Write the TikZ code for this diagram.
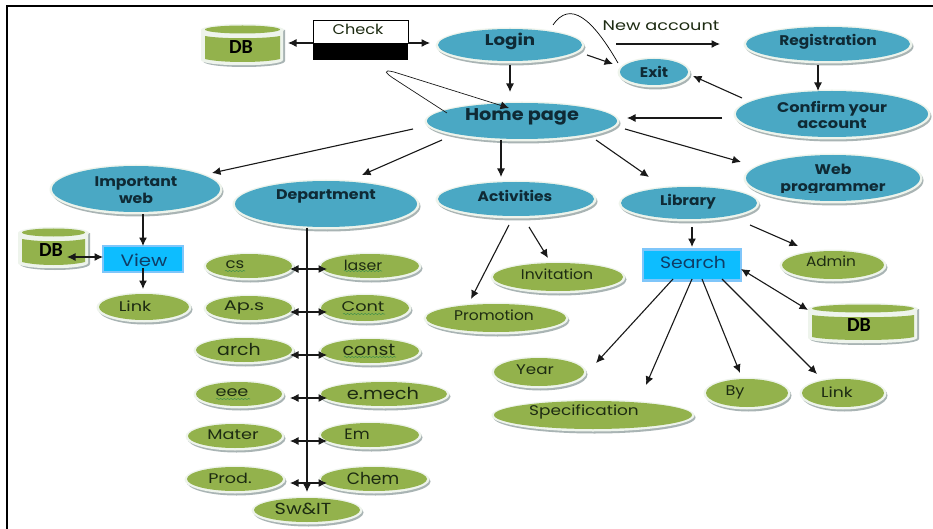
\documentclass[tikz,border=0pt]{standalone}
\usepackage{fontspec}
\setmainfont{Poppins}
\newfontfamily\dbfont{Carlito}
\usetikzlibrary{arrows.meta,shapes.geometric,decorations.pathmorphing}
\definecolor{blueF}{HTML}{4AA8C4}
\definecolor{greenF}{HTML}{93B24C}
\definecolor{rimC}{HTML}{EEF4EC}
\definecolor{shadeC}{HTML}{A9B4B4}
\definecolor{inkC}{HTML}{0F2A35}
\definecolor{greenInk}{HTML}{1D2B12}
\definecolor{boxF}{HTML}{0DBDFF}
\definecolor{boxE}{HTML}{7FC6FA}
\definecolor{boxInk}{HTML}{0F3D66}
\definecolor{squigC}{HTML}{3F8F4A}
\tikzset{
  x=1pt,y=-1pt,
  ellbase/.style={ellipse,inner sep=0pt,draw=none},
  bluell/.style={ellbase,fill=blueF},
  greenell/.style={ellbase,fill=greenF},
  boldtxt/.style={inner sep=0pt,text=inkC,align=center,xscale=1.1,font=\fontsize{14}{16.5}\selectfont\bfseries},
  plaintxt/.style={inner sep=0pt,text=greenInk,xscale=1.15,font=\fontsize{14}{15}\selectfont},
  bigtxt/.style={plaintxt,font=\fontsize{16.5}{17}\selectfont},
  dbtxt/.style={inner sep=0pt,text=black,font=\dbfont\fontsize{20}{22}\selectfont\bfseries},
  boxnode/.style={rectangle,draw=boxE,line width=2.5pt,fill=boxF,inner sep=0pt},
  boxtxt/.style={inner sep=0pt,text=boxInk,xscale=1.2,font=\fontsize{16.5}{17}\selectfont},
  arr/.style={draw=black!90,line width=1.1pt,-{Latex[length=8.5pt,width=8pt]}},
  darr/.style={draw=black!90,line width=1.1pt,{Latex[length=8.5pt,width=8pt]}-{Latex[length=8.5pt,width=8pt]}},
  squig/.style={draw=squigC,line width=0.5pt,decorate,decoration={snake,amplitude=0.6pt,segment length=3.5pt}}
}
% style, name, cx, cy, rx, ry (outer sizes)
\newcommand\ELL[6]{%
  \fill[shadeC] ({#3+1.5},{#4+2.5}) ellipse ({#5-1} and {#6});
  \fill[rimC] (#3,{#4+0.5}) ellipse ({#5-0.5} and {#6});
  \node[#1,minimum width={2*(#5-3)*1pt},minimum height={2*(#6-2)*1pt}] (#2) at (#3,#4) {};
}
% name, x0, x1, y0, y1, textx, texty
\newcommand\DBN[7]{%
  \pgfmathsetmacro\dbc{(#2+#3)/2}
  \pgfmathsetmacro\dbw{(#3-#2)/2-4}
  \pgfmathsetmacro\dbo{(#3-#2)/2}
  \fill[shadeC] ({#2+2},{#4+6}) -- ({#3+1},{#4+6}) -- ({#3+1},{#5-7}) .. controls ({#3+1},{#5+1}) and ({#2+2},{#5+1}) .. ({#2+2},{#5-7}) -- cycle;
  \fill[rimC] ({#2},{#4+6}) -- ({#3-1},{#4+6}) -- ({#3-1},{#5-8}) .. controls ({#3-1},{#5-1}) and ({#2},{#5-1}) .. ({#2},{#5-8}) -- cycle;
  \fill[rimC] (\dbc,{#4+6}) ellipse ({\dbo} and {6});
  \fill[greenF] (\dbc,{#4+5.5}) ellipse ({\dbw} and {4});
  \fill[greenF] ({#2+4},{#4+12}) .. controls ({#2+20},{#4+15}) and ({#3-20},{#4+15}) .. ({#3-4},{#4+12}) -- ({#3-4},{#5-9}) .. controls ({#3-20},{#5-5}) and ({#2+20},{#5-5}) .. ({#2+4},{#5-9}) -- cycle;
  \node[dbtxt] (#1) at (#6,#7) {DB};
}
\newcommand\TXT[5]{\node[#1] (#2) at (#3,#4) {#5};}
\newcommand\CN[7]{\draw[#1] ([shift={(#3,#4)}]#2.center) -- ([shift={(#6,#7)}]#5.center);}
\begin{document}
\begin{tikzpicture}
\useasboundingbox (0,0) rectangle (933,529);
\fill[white] (0,0) rectangle (933,529);
\draw[black,line width=2pt] (6.5,529) -- (6.5,6) -- (933,6);

% blue ellipses
\ELL{bluell}{login}{510}{45}{75}{18}
\ELL{bluell}{exit}{654}{72}{37}{15}
\ELL{bluell}{reg}{828}{44}{85}{19}
\ELL{bluell}{conf}{832}{114}{99}{25}
\ELL{bluell}{home}{522}{121}{98}{20}
\ELL{bluell}{web}{833}{178}{90}{25}
\ELL{bluell}{lib}{689}{203}{71}{18}
\ELL{bluell}{act}{516}{199}{81}{19}
\ELL{bluell}{dept}{326}{204}{94}{25}
\ELL{bluell}{imp}{136}{189}{87}{25}

\TXT{boldtxt,xscale=1.07,font=\fontsize{15.5}{18}\selectfont\bfseries}{loginT}{510}{41}{Login}
\TXT{boldtxt}{exitT}{654}{72}{Exit}
\TXT{boldtxt}{regT}{828}{42}{Registration}
\TXT{boldtxt,xscale=1.05}{confT}{832}{115}{Confirm your\\account}
\node[boldtxt,xscale=1.03,font=\fontsize{17}{18}\selectfont\bfseries] (homeT) at (522,117) {Home page};
\begin{scope}
\clip (740,150) rectangle (930,192.5);
\TXT{boldtxt,xscale=1.02}{webT}{833}{179.5}{Web\\programmer}
\end{scope}
\TXT{boldtxt}{libT}{688}{202}{Library}
\TXT{boldtxt}{actT}{515}{196}{Activities}
\TXT{boldtxt,xscale=1.03}{deptT}{326}{196}{Department}
\TXT{boldtxt,xscale=1.02}{impT}{136}{190}{Important\\web}

% check box
\node[rectangle,draw=black,line width=0.8pt,fill=white,minimum width=95pt,minimum height=23pt,inner sep=0pt] (check) at (360.5,31.5) {};
\node[rectangle,fill=black,minimum width=95.8pt,minimum height=17pt,inner sep=0pt] (checkb) at (360.5,51.5) {};
\TXT{plaintxt}{checkT}{358}{29}{Check}
\TXT{plaintxt,xscale=1.1}{newT}{661}{26}{New account}

% DBs
\DBN{dbt}{201}{284}{24}{68}{241}{47}
\DBN{dbl}{18}{89}{227}{271}{51}{250}
\DBN{dbr}{808}{918}{303}{346}{859}{325}

% boxes
\node[boxnode,minimum width=80pt,minimum height=26pt] (view) at (143,259) {};
\node[boxnode,minimum width=98pt,minimum height=31pt] (search) at (692,265) {};
\TXT{boxtxt}{viewT}{144}{260}{View}
\TXT{boxtxt,xscale=0.95}{searchT}{693}{262}{Search}

% green ellipses
\ELL{greenell}{cs}{249}{266}{46}{14}
\ELL{greenell}{laser}{370}{266}{52}{14}
\ELL{greenell}{aps}{249}{308}{46}{14}
\ELL{greenell}{cont}{365}{308}{47}{15}
\ELL{greenell}{arch}{244}{350}{51}{14}
\ELL{greenell}{const}{370}{351}{52}{14}
\ELL{greenell}{eee}{239}{394}{46}{14}
\ELL{greenell}{emech}{384}{394}{66}{14}
\ELL{greenell}{mater}{235}{436}{50}{14}
\ELL{greenell}{em}{370}{435}{52}{14}
\ELL{greenell}{prod}{235}{479}{51}{14}
\ELL{greenell}{chem}{374}{479}{56}{14}
\ELL{greenell}{sw}{307}{510}{56}{14}
\ELL{greenell}{linka}{144}{307}{48}{15}
\ELL{greenell}{inv}{558}{277}{68}{16}
\ELL{greenell}{promo}{496}{318}{73}{16}
\ELL{greenell}{admin}{833}{265}{54}{16}
\ELL{greenell}{year}{539}{372}{48}{16}
\ELL{greenell}{spec}{593}{415}{102}{16}
\ELL{greenell}{by}{747}{393}{44}{16}
\ELL{greenell}{linkb}{843}{393}{44}{16}

\TXT{plaintxt,xscale=1.03}{csT}{235}{265}{cs}
\TXT{plaintxt,xscale=0.98}{laserT}{363}{265}{laser}
\TXT{plaintxt,xscale=1.2}{apsT}{244}{307}{Ap.s}
\TXT{plaintxt,xscale=1.1}{contT}{363}{307}{Cont}
\TXT{bigtxt}{archT}{239}{349}{arch}
\TXT{bigtxt}{constT}{369}{350}{const}
\TXT{plaintxt,xscale=1.1}{eeeT}{232}{393}{eee}
\TXT{bigtxt,xscale=1.02}{emechT}{383}{393}{e.mech}
\TXT{plaintxt,xscale=1.1}{materT}{233}{435}{Mater}
\TXT{bigtxt,xscale=0.95,font=\fontsize{15}{17}\selectfont}{emT}{357}{434}{Em}
\TXT{plaintxt,xscale=1.09}{prodT}{230}{478}{Prod.}
\TXT{bigtxt,xscale=0.9}{chemT}{373}{478}{Chem}
\TXT{bigtxt,xscale=1.05,font=\fontsize{16}{17}\selectfont}{swT}{303}{509}{Sw\&IT}
\TXT{plaintxt,xscale=1.1}{linkaT}{135}{306}{Link}
\TXT{plaintxt,xscale=0.97}{invT}{557}{274}{Invitation}
\TXT{plaintxt,xscale=0.96}{promoT}{494}{315}{Promotion}
\TXT{plaintxt,xscale=0.95}{adminT}{831}{261}{Admin}
\TXT{plaintxt,xscale=1.04}{yearT}{535}{370}{Year}
\TXT{plaintxt,xscale=1.05}{specT}{584}{412}{Specification}
\TXT{plaintxt,xscale=1}{byT}{735}{392}{By}
\TXT{plaintxt,xscale=1.07}{linkbT}{837}{392}{Link}

% spell-check squiggles
\draw[squig] (225,271) -- (245,271);
\draw[squig] (344,271) -- (382,271);
\draw[squig] (343,314) -- (385,314);
\draw[squig] (344,357) -- (396,357);
\draw[squig] (216,399) -- (250,399);

% connectors
\CN{arr}{check}{-47.5}{11.5}{dbt}{47}{-4}
\CN{arr}{check}{47.5}{11.5}{login}{-80}{-2}
\CN{arr}{login}{0}{20}{home}{-12}{-29}
\CN{arr}{login}{77}{10}{exit}{-41}{-8}
\CN{arr}{login}{106}{-1}{reg}{-108}{0}
\draw[black,line width=0.7pt] ([shift={(43,-20)}]login.center) .. controls (570,0) and (592,18) .. ([shift={(-36,-9)}]exit.center);
\CN{arr}{conf}{-90}{-16}{exit}{39}{4}
\CN{arr}{reg}{-10}{21}{conf}{-14}{-23}
\CN{arr}{conf}{-110}{4}{home}{105}{-3}
\CN{arr}{home}{103}{8}{web}{-92}{-16}
\CN{arr}{home}{74}{19}{lib}{-40}{-26}
\CN{arr}{home}{-21}{19}{act}{-15}{-22}
\CN{arr}{home}{-80}{19}{dept}{36}{-29}
\CN{arr}{home}{-109}{8}{imp}{76}{-16}
\draw[arr,line width=0.7pt] ([shift={(-75,-8)}]home.center) -- (396,80) .. controls (385,73) and (382,69) .. (394,72) -- ([shift={(-13,-13)}]home.center);
\CN{arr}{imp}{7}{25}{view}{0}{-13}
\CN{arr}{view}{0}{9}{linka}{-1}{-18}
\CN{darr}{dbl}{16}{7}{view}{-40}{-2}
\CN{arr}{act}{-7}{26}{promo}{-25}{-19}
\CN{arr}{act}{13}{28}{inv}{-10}{-19}
\CN{arr}{lib}{3}{24}{search}{0}{-18}
\CN{arr}{lib}{61}{22}{admin}{-35}{-19}
\CN{darr}{search}{49}{4}{dbr}{-51}{-15}
\CN{arr}{search}{-19}{14}{year}{57}{-9}
\CN{arr}{search}{0}{14}{spec}{53}{-30}
\CN{arr}{search}{10}{14}{by}{-7}{-20}
\CN{arr}{search}{30}{14}{linkb}{-26}{-19}
\CN{arr}{dept}{-19}{24}{sw}{0}{-18}
\CN{darr}{cs}{41}{3}{laser}{-43}{3}
\CN{darr}{aps}{41}{4}{cont}{-38}{4}
\CN{darr}{arch}{46}{5}{const}{-43}{4}
\CN{darr}{eee}{51}{4}{emech}{-57}{4}
\CN{darr}{mater}{55}{5}{em}{-43}{6}
\CN{darr}{prod}{55}{4}{chem}{-47}{4}
\end{tikzpicture}
\end{document}
